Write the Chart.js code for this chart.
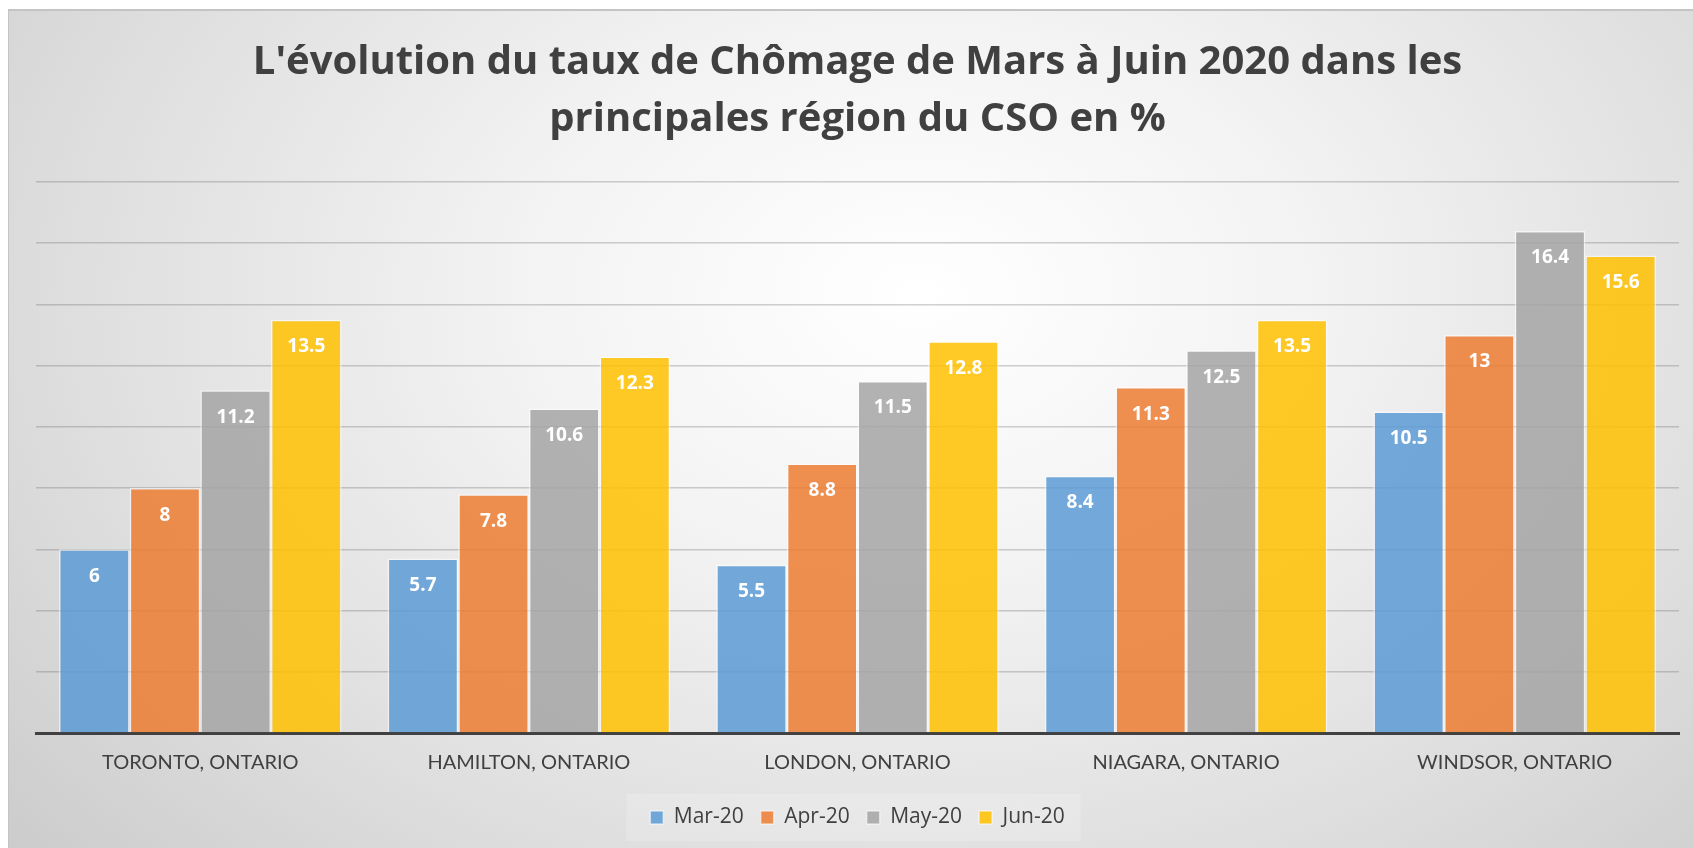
<!DOCTYPE html>
<html>
<head>
<meta charset="utf-8">
<script src="https://cdn.jsdelivr.net/npm/chart.js@4.4.1/dist/chart.umd.min.js"></script>
<style>
  html, body { margin: 0; padding: 0; background: #ffffff; }
  #wrap {
    position: absolute; left: 8px; top: 9px; width: 1685px; height: 839px;
    box-sizing: border-box;
    border-top: 2px solid #c4c4c4; border-left: 1px solid #c4c4c4;
    background: radial-gradient(ellipse 78% 110% at 54% 34%, #ffffff 0%, #f3f3f3 30%, #dedede 65%, #c6c6c6 100%);
  }
</style>
</head>
<body>
<div id="wrap"><canvas id="myChart"></canvas></div>
<script>
const regions = ['TORONTO, ONTARIO', 'HAMILTON, ONTARIO', 'LONDON, ONTARIO', 'NIAGARA, ONTARIO', 'WINDSOR, ONTARIO'];
const mar20 = [6, 5.7, 5.5, 8.4, 10.5];
const apr20 = [8, 7.8, 8.8, 11.3, 13];
const may20 = [11.2, 10.6, 11.5, 12.5, 16.4];
const jun20 = [13.5, 12.3, 12.8, 13.5, 15.6];
const seriesNames = ['Mar-20', 'Apr-20', 'May-20', 'Jun-20'];
const titleLines = ["L'évolution du taux de Chômage de Mars à Juin 2020 dans les", 'principales région du CSO en %'];

const colors = ['rgba(91,155,213,0.85)', 'rgba(237,125,49,0.85)', 'rgba(165,165,165,0.85)', 'rgba(255,192,0,0.85)'];

// white value labels inside the top of each bar
const barLabels = {
    id: 'barLabels',
    afterDatasetsDraw(chart) {
        const ctx = chart.ctx;
        ctx.save();
        ctx.font = 'bold 19px "Open Sans"';
        ctx.fillStyle = '#ffffff';
        ctx.textAlign = 'center';
        ctx.textBaseline = 'middle';
        chart.data.datasets.forEach((ds, i) => {
            chart.getDatasetMeta(i).data.forEach((bar, j) => {
                ctx.fillText(String(ds.data[j]), bar.x, bar.y + 27);
            });
        });
        ctx.restore();
    }
};

// faint panel behind the legend
const legendPanel = {
    id: 'legendPanel',
    beforeDraw(chart) {
        const lg = chart.legend;
        if (!lg || !lg.legendHitBoxes.length) return;
        const first = lg.legendHitBoxes[0];
        const last = lg.legendHitBoxes[lg.legendHitBoxes.length - 1];
        const ctx = chart.ctx;
        ctx.save();
        ctx.fillStyle = 'rgba(255,255,255,0.18)';
        ctx.fillRect(first.left - 24, first.top - 13, last.left + last.width - first.left + 40, first.height + 26);
        ctx.restore();
    }
};

const ctx = document.getElementById('myChart');
new Chart(ctx, {
    type: 'bar',
    data: {
        labels: regions,
        datasets: [mar20, apr20, may20, jun20].map((d, i) => ({
            label: seriesNames[i],
            data: d,
            backgroundColor: colors[i],
            borderColor: 'rgba(255,255,255,0.55)',
            borderWidth: 1.5,
            categoryPercentage: 0.86,
            barPercentage: 1.0
        }))
    },
    options: {
        responsive: true,
        maintainAspectRatio: false,
        animation: false,
        layout: { padding: { left: 27, right: 14, top: 0, bottom: 10 } },
        scales: {
            x: {
                grid: { display: false, drawTicks: false },
                border: { display: true, color: '#404040', width: 3 },
                ticks: { color: '#404040', font: { family: 'Lato', size: 20 }, padding: 18 },
                afterFit(scale) { scale.height -= 3; }
            },
            y: {
                min: 0,
                max: 18,
                ticks: { display: false, stepSize: 2 },
                grid: { color: 'rgba(110,110,110,0.32)', lineWidth: 1.5, drawTicks: false },
                border: { display: false }
            }
        },
        plugins: {
            title: {
                display: true,
                text: titleLines,
                color: '#404040',
                font: { family: 'Open Sans', size: 40, weight: 'bold', lineHeight: 1.425 },
                padding: { top: 23, bottom: 34 }
            },
            legend: {
                position: 'bottom',
                labels: {
                    color: '#404040',
                    font: { family: 'Open Sans', size: 21 },
                    boxWidth: 13,
                    boxHeight: 13,
                    padding: 17
                }
            },
            tooltip: { enabled: false }
        }
    },
    plugins: [barLabels, legendPanel]
});
</script>
</body>
</html>
